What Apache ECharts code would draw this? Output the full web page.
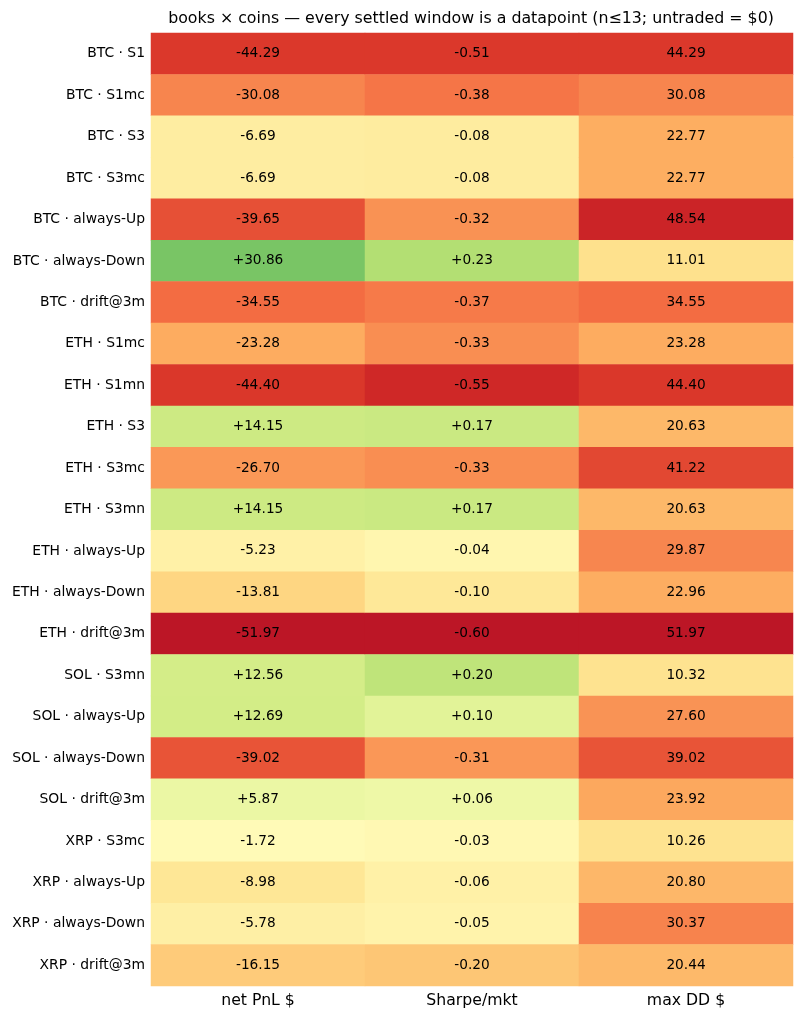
<!DOCTYPE html>
<html>
<head>
<meta charset="utf-8">
<title>books x coins</title>
<script src="https://cdn.jsdelivr.net/npm/echarts@6/dist/echarts.min.js"></script>
<style>
  html, body { margin: 0; padding: 0; background: #fff; }
  #chart { width: 804px; height: 1019px; }
</style>
</head>
<body>
<div id="chart"></div>
<script>
// rows of the table (book per coin)
var rows = ['BTC · S1', 'BTC · S1mc', 'BTC · S3', 'BTC · S3mc', 'BTC · always-Up', 'BTC · always-Down',
  'BTC · drift@3m', 'ETH · S1mc', 'ETH · S1mn', 'ETH · S3', 'ETH · S3mc', 'ETH · S3mn', 'ETH · always-Up',
  'ETH · always-Down', 'ETH · drift@3m', 'SOL · S3mn', 'SOL · always-Up', 'SOL · always-Down',
  'SOL · drift@3m', 'XRP · S3mc', 'XRP · always-Up', 'XRP · always-Down', 'XRP · drift@3m'];
var columns = ['net PnL $', 'Sharpe/mkt', 'max DD $'];

var netPnl = [-44.29, -30.08, -6.69, -6.69, -39.65, 30.86, -34.55, -23.28, -44.40, 14.15, -26.70, 14.15,
  -5.23, -13.81, -51.97, 12.56, 12.69, -39.02, 5.87, -1.72, -8.98, -5.78, -16.15];
var sharpe = [-0.51, -0.38, -0.08, -0.08, -0.32, 0.23, -0.37, -0.33, -0.55, 0.17, -0.33, 0.17,
  -0.04, -0.10, -0.60, 0.20, 0.10, -0.31, 0.06, -0.03, -0.06, -0.05, -0.20];
var maxDD = [44.29, 30.08, 22.77, 22.77, 48.54, 11.01, 34.55, 23.28, 44.40, 20.63, 41.22, 20.63,
  29.87, 22.96, 51.97, 10.32, 27.60, 39.02, 23.92, 10.26, 20.80, 30.37, 20.44];

var RdYlGn = ['#a50026', '#d73027', '#f46d43', '#fdae61', '#fee08b', '#ffffbf',
  '#d9ef8b', '#a6d96a', '#66bd63', '#1a9850', '#006837'];

function maxAbs(arr) {
  return Math.max.apply(null, arr.map(Math.abs));
}

// each column gets its own colour scale; drawdown is "bad" so it is flipped
var cols = [
  { vals: netPnl, sign: 1, plus: true },
  { vals: sharpe, sign: 1, plus: true },
  { vals: maxDD, sign: -1, plus: false }
];

var data = [];
cols.forEach(function (c, ci) {
  var m = maxAbs(c.vals);
  c.vals.forEach(function (v, ri) {
    var txt = v.toFixed(2);
    if (c.plus && v > 0) txt = '+' + txt;
    data.push([ci, ri, c.sign * v / m, txt]);
  });
});

var myChart = echarts.init(document.getElementById('chart'));

var option = {
  animation: false,
  backgroundColor: '#fff',
  textStyle: { fontFamily: 'DejaVu Sans' },
  title: {
    text: 'books × coins — every settled window is a datapoint (n≤13; untraded = $0)',
    left: 466,
    top: 6,
    textAlign: 'center',
    textStyle: { fontSize: 15.8, fontWeight: 'normal', color: '#000', fontFamily: 'DejaVu Sans' }
  },
  grid: { left: 151, right: 11, top: 33, bottom: 33 },
  xAxis: {
    type: 'category',
    data: columns,
    axisLine: { show: false },
    axisTick: { show: false },
    splitLine: { show: false },
    axisLabel: { color: '#000', fontSize: 15.7, margin: 7, fontFamily: 'DejaVu Sans' }
  },
  yAxis: {
    type: 'category',
    data: rows,
    inverse: true,
    axisLine: { show: false },
    axisTick: { show: false },
    splitLine: { show: false },
    axisLabel: { color: '#000', fontSize: 13.9, margin: 6, fontFamily: 'DejaVu Sans' }
  },
  visualMap: {
    show: false,
    type: 'continuous',
    dimension: 2,
    min: -1.1,
    max: 1.1,
    inRange: { color: RdYlGn }
  },
  series: [{
    type: 'heatmap',
    data: data,
    itemStyle: { borderWidth: 0 },
    label: {
      show: true,
      color: '#000',
      fontSize: 13.7,
      fontFamily: 'DejaVu Sans',
      formatter: function (p) { return p.data[3]; }
    },
    emphasis: { disabled: true }
  }]
};

myChart.setOption(option);
window.addEventListener('resize', function () { myChart.resize(); });
</script>
</body>
</html>
